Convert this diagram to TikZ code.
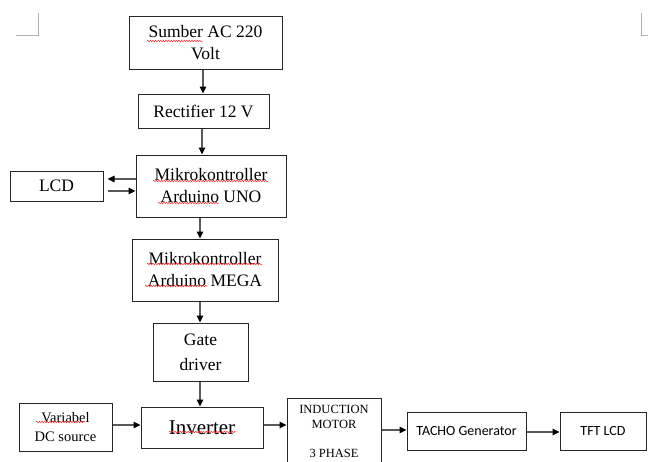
\documentclass[tikz,border=0pt]{standalone}
\usepackage{fontspec}
\setmainfont{Liberation Serif}
\newfontfamily\calib{Carlito}
\usetikzlibrary{arrows.meta,decorations.pathmorphing}
\begin{document}
\begin{tikzpicture}[x=1pt,y=-1pt,
  box/.style={draw=black!85,line width=1pt,inner sep=0pt,align=center},
  serif/.style={font=\fontsize{17.5}{22}\selectfont},
  arr/.style={draw=black!65,line width=1.1pt,-{Triangle[length=7pt,width=6.5pt,color=black]}},
  wavy/.style={draw=red!80,line width=0.5pt,decorate,decoration={snake,amplitude=0.8pt,segment length=2.6pt}},
  cornermark/.style={draw=black!30,line width=0.6pt}]
\useasboundingbox (0,0) rectangle (648,461);
\clip (0,0) rectangle (648,461);
% page corner marks
\draw[cornermark] (16,35) -- (38,35) -- (38,13);
\draw[cornermark] (648,35) -- (641,35) -- (641,13);
% boxes
\node[box,serif,minimum width=153pt,minimum height=53pt] (sumber) at (205.5,42.5) {Sumber AC 220\\Volt};
\node[box,serif,minimum width=131pt,minimum height=34pt] (rect) at (203.5,111) {Rectifier 12 V};
\node[box,serif,minimum width=150pt,minimum height=62pt] (uno) at (211,186) {Mikrokontroller\\Arduino UNO};
\node[box,serif,minimum width=93pt,minimum height=30pt] (lcd) at (56.5,186) {LCD};
\node[box,serif,minimum width=146pt,minimum height=62pt] (mega) at (205,270) {Mikrokontroller\\Arduino MEGA};
\node[box,font=\fontsize{17.5}{25}\selectfont,minimum width=95pt,minimum height=58pt] (gate) at (200.5,352) {Gate\\driver};
\node[box,font=\fontsize{14.5}{19}\selectfont,minimum width=93pt,minimum height=48pt] (var) at (65.5,427) {Variabel\\DC source};
\node[box,font=\fontsize{21}{25}\selectfont,minimum width=122pt,minimum height=41pt] (inv) at (202,427.5) {Inverter};
\node[box,minimum width=94pt,minimum height=77pt] (ind) at (334,436.5) {};
\node[align=center,inner sep=0pt,font=\fontsize{12.5}{15}\selectfont] (indtxt) at (334,431) {INDUCTION\\MOTOR\\[14pt]3 PHASE};
\node[box,font=\calib\fontsize{14}{17}\selectfont,minimum width=119pt,minimum height=38pt] (tacho) at (466.5,431) {TACHO Generator};
\node[box,font=\calib\fontsize{14}{17}\selectfont,minimum width=86pt,minimum height=38pt] (tft) at (603,431) {TFT LCD};
% connectors
\draw[arr] ([xshift=-2.5pt]sumber.south) -- ([xshift=-0.5pt]rect.north);
\draw[arr] ([xshift=-1.5pt]rect.south) -- ([xshift=-9pt]uno.north);
\draw[arr,shorten >=4pt] ([yshift=7pt]uno.west) -- ([yshift=7pt]lcd.east);
\draw[arr,shorten <=4pt] ([yshift=-5pt]lcd.east) -- ([yshift=-5pt]uno.west);
\draw[arr] ([xshift=-11pt]uno.south) -- ([xshift=-5pt]mega.north);
\draw[arr] ([xshift=-5pt]mega.south) -- ([xshift=-0.5pt]gate.north);
\draw[arr] ([xshift=-0.5pt]gate.south) -- ([xshift=-2pt]inv.north);
\draw[arr] ([yshift=2pt]var.east) -- ([yshift=2.5pt]inv.west);
\draw[arr] ([yshift=2.5pt]inv.east) -- ([yshift=11.5pt]ind.west);
\draw[arr] ([yshift=6.5pt]ind.east) -- ([yshift=1pt]tacho.west);
\draw[arr] ([yshift=-1pt]tacho.east) -- ([yshift=-1pt]tft.west);
% spell-check underlines
\draw[wavy] (147,41) -- (203,41);
\draw[wavy] (153,181) -- (268,181);
\draw[wavy] (158,203) -- (219,203);
\draw[wavy] (147,264) -- (262,264);
\draw[wavy] (145,286) -- (207,286);
\draw[wavy] (36,422) -- (85,422);
\draw[wavy] (169,432) -- (236,432);
\end{tikzpicture}
\end{document}
